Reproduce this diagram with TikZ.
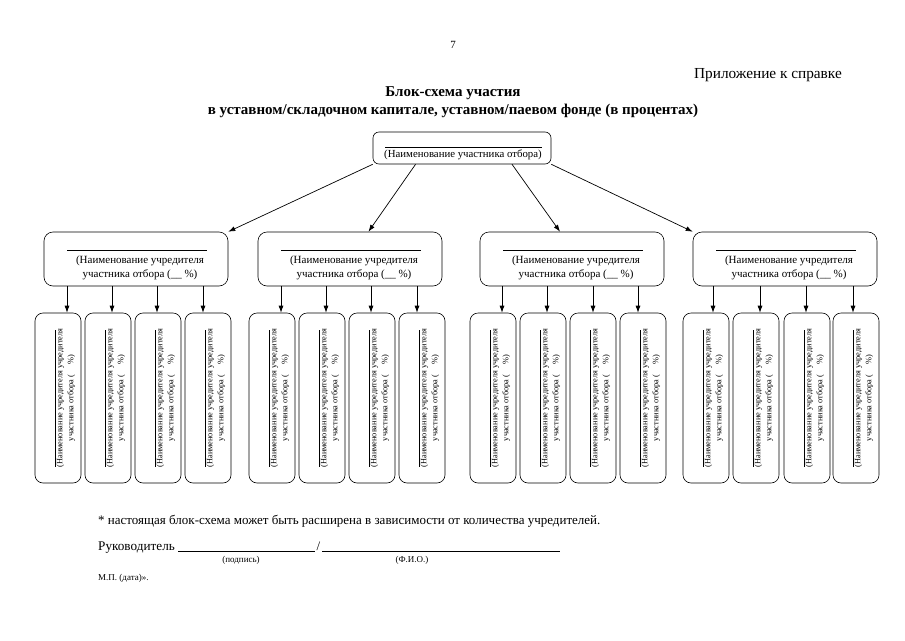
\documentclass[tikz,border=0pt]{standalone}
\usepackage{fontspec}
\setmainfont{Liberation Serif}
\usetikzlibrary{calc,arrows.meta}
\tikzset{
	blok/.style={draw, line width=0.6pt, inner sep=0pt},
	strelka/.style={-{Latex[length=7pt,width=5pt]}, line width=0.7pt},
	nadpis/.style={inner sep=0pt, align=center},
}
\def\nizblok(#1)(#2){%
	\node[blok, rounded corners=8pt, minimum width=46pt, minimum height=170pt] (#1) at (#2, 398) {};
	\node[nadpis, rotate=90, font=\fontsize{8.3}{11}\selectfont] (#1t) at ($(#1.center)+(8,0)$) {(Наименование учредителя учредителя\\участника отбора (\hspace{1.2em}\%)};
	\draw[line width=0.5pt] ($(#1.center)+(-2.5,-68)$) -- ($(#1.center)+(-2.5,69)$);
}
\def\sredblok(#1)(#2){%
	\node[blok, rounded corners=9pt, minimum width=184pt, minimum height=54pt] (#1) at (#2, 259) {};
	\node[nadpis, font=\fontsize{11}{14}\selectfont] (#1t) at ($(#1.center)+(4,8.5)$) {(Наименование учредителя\\участника отбора (\_\_ \%)};
	\draw[line width=0.5pt] ($(#1.center)+(-69,-9)$) -- ($(#1.center)+(71,-9)$);
}

\begin{document}
\begin{tikzpicture}[x=1pt, y=-1pt]
	%%%%% START %%%%%
	\useasboundingbox[fill=white] (0,0) rectangle (905,640);
	
	\node[nadpis, anchor=base, font=\fontsize{11}{13}\selectfont] (nomer) at (453,48) {7};
	\node[nadpis, anchor=base east, font=\fontsize{15.3}{17}\selectfont] (prilozh) at (842,78) {Приложение к справке};
	\node[nadpis, anchor=base, font=\bfseries\fontsize{15}{17}\selectfont] (zag1) at (453,96) {Блок-схема участия};
	\node[nadpis, anchor=base, font=\bfseries\fontsize{15}{17}\selectfont] (zag2) at (453,114) {в уставном/складочном капитале, уставном/паевом фонде (в процентах)};
	
	% verkhnij blok
	\node[blok, rounded corners=6pt, minimum width=178pt, minimum height=32pt] (top) at (462,148) {};
	\node[nadpis, font=\fontsize{10.8}{13}\selectfont] (topt) at ($(top.center)+(1,7)$) {(Наименование участника отбора)};
	\draw[line width=0.5pt] ($(top.center)+(-77,-1)$) -- ($(top.center)+(80,-1)$);
	
	% srednie bloki
	\sredblok(m1)(136)
	\sredblok(m2)(350)
	\sredblok(m3)(572)
	\sredblok(m4)(785)
	
	\draw[strelka] (top.south west) -- (m1.north east);
	\draw[strelka] ($(top.south west)!0.24!(top.south east)$) -- ($(m2.north west)!0.6!(m2.north east)$);
	\draw[strelka] ($(top.south west)!0.78!(top.south east)$) -- ($(m3.north west)!0.435!(m3.north east)$);
	\draw[strelka] (top.south east) -- (m4.north west);
	
	% nizhnie bloki
	\nizblok(b11)(58)
	\nizblok(b12)(108)
	\nizblok(b13)(158)
	\nizblok(b14)(208)
	
	\nizblok(b21)(272)
	\nizblok(b22)(322)
	\nizblok(b23)(372)
	\nizblok(b24)(422)
	
	\nizblok(b31)(493)
	\nizblok(b32)(543)
	\nizblok(b33)(593)
	\nizblok(b34)(643)
	
	\nizblok(b41)(706)
	\nizblok(b42)(756)
	\nizblok(b43)(807)
	\nizblok(b44)(856)
	
	\draw[strelka] (m1.south -| 67,0) -- (b11.north -| 67,0);
	\draw[strelka] (m1.south -| 112,0) -- (b12.north -| 112,0);
	\draw[strelka] (m1.south -| 157,0) -- (b13.north -| 157,0);
	\draw[strelka] (m1.south -| 203,0) -- (b14.north -| 203,0);
	
	\draw[strelka] (m2.south -| 281,0) -- (b21.north -| 281,0);
	\draw[strelka] (m2.south -| 326,0) -- (b22.north -| 326,0);
	\draw[strelka] (m2.south -| 371,0) -- (b23.north -| 371,0);
	\draw[strelka] (m2.south -| 417,0) -- (b24.north -| 417,0);
	
	\draw[strelka] (m3.south -| 502,0) -- (b31.north -| 502,0);
	\draw[strelka] (m3.south -| 547,0) -- (b32.north -| 547,0);
	\draw[strelka] (m3.south -| 593,0) -- (b33.north -| 593,0);
	\draw[strelka] (m3.south -| 638,0) -- (b34.north -| 638,0);
	
	\draw[strelka] (m4.south -| 713,0) -- (b41.north -| 713,0);
	\draw[strelka] (m4.south -| 760,0) -- (b42.north -| 760,0);
	\draw[strelka] (m4.south -| 806,0) -- (b43.north -| 806,0);
	\draw[strelka] (m4.south -| 853,0) -- (b44.north -| 853,0);
	
	% podval
	\node[nadpis, anchor=base west, font=\fontsize{13}{15}\selectfont] (snoska) at (98,524) {* настоящая блок-схема может быть расширена в зависимости от количества учредителей.};
	\node[nadpis, anchor=base west, font=\fontsize{13.2}{15}\selectfont] (ruk) at (98,550) {Руководитель};
	\draw[line width=0.5pt] (178,551) -- (315,551);
	\node[nadpis, anchor=base, font=\fontsize{13}{15}\selectfont] (drob) at (318.5,550) {/};
	\draw[line width=0.5pt] (322,551) -- (560,551);
	\node[nadpis, anchor=base, font=\fontsize{9}{11}\selectfont] (podpis) at (241,562) {(подпись)};
	\node[nadpis, anchor=base, font=\fontsize{9}{11}\selectfont] (fio) at (412,562) {(Ф.И.О.)};
	\node[nadpis, anchor=base west, font=\fontsize{9}{11}\selectfont] (mp) at (98,580) {М.П. (дата)».};
	
	%%%%% END %%%%%
\end{tikzpicture}
\end{document}
